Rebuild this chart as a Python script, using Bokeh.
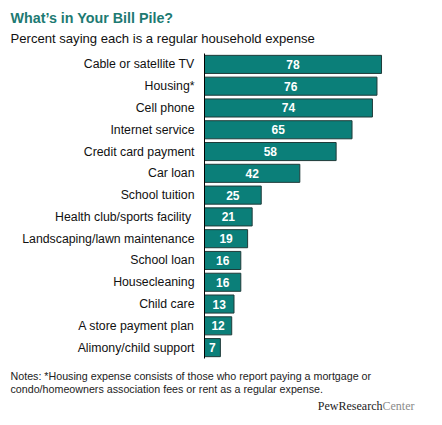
from bokeh.plotting import figure
from bokeh.models import ColumnDataSource, Range1d
from bokeh.core.properties import value
from bokeh.embed import file_html
from bokeh.resources import INLINE

categories = ["Cable or satellite TV", "Housing*", "Cell phone", "Internet service",
              "Credit card payment", "Car loan", "School tuition",
              "Health club/sports facility ", "Landscaping/lawn maintenance",
              "School loan", "Housecleaning", "Child care", "A store payment plan",
              "Alimony/child support"]
values = [78, 76, 74, 65, 58, 42, 25, 21, 19, 16, 16, 13, 12, 7]

title_text = "What\u2019s in Your Bill Pile?"
subtitle_text = "Percent saying each is a regular household expense"
notes = ["Notes: *Housing expense consists of those who report paying a mortgage or",
         "condo/homeowners association fees or rent as a regular expense."]

BAR = "#0b7f79"
FONT = "Liberation Sans"
W, H = 442, 425
XS = 2.2695   # px per percent
YS = 21.786   # px per category row
X0 = 204      # page x of the zero line
Y0 = 63.9     # page y of first row centre

n = len(categories)
idx = list(range(n))

src = ColumnDataSource(dict(cat=categories, idx=idx, val=values,
                            lab=[str(v) for v in values],
                            mid=[v / 2 for v in values]))

p = figure(width=W, height=H, output_backend="svg", toolbar_location=None,
           x_range=Range1d(-X0 / XS, (W - X0) / XS),
           y_range=Range1d((H - Y0) / YS, -Y0 / YS),
           min_border=0)
p.outline_line_color = None
p.grid.visible = False
p.axis.visible = False

def dx(page_x):
    return (page_x - X0) / XS

def dy(page_y):
    return (page_y - Y0) / YS

# bars
p.hbar(y="idx", left=0, right="val", height=0.83, source=src, fill_color=BAR,
       line_color="#1f3b39", line_width=1)
# value labels
p.text(x="mid", y="idx", text="lab", source=src, text_align="center",
       text_baseline="middle", text_color="white", text_font=value(FONT),
       text_font_style="bold", text_font_size="12px")
# category axis line and labels
p.segment(x0=[0], y0=[-0.5], x1=[0], y1=[n - 0.5], line_color="black", line_width=1)
p.text(x=dx(194), y="idx", text="cat", source=src, text_align="right",
       text_baseline="middle", text_color="#111111", text_font=value(FONT),
       text_font_size="12.3px")

def lab(page_x, page_y, text, **kw):
    p.text(x=[dx(page_x)], y=[dy(page_y)], text=[text], text_baseline="middle", **kw)

lab(10, 17, title_text, text_font=value(FONT), text_font_style="bold",
    text_font_size="14.3px", text_color="#1d7a72")
lab(10, 38, subtitle_text, text_font=value(FONT), text_font_size="13.1px",
    text_color="#111111")
lab(10, 375, notes[0], text_font=value(FONT), text_font_size="10.7px", text_color="#222222")
lab(10, 388, notes[1], text_font=value(FONT), text_font_size="10.7px", text_color="#222222")
lab(382, 405, "PewResearch", text_font=value("Liberation Serif"), text_font_size="12px",
    text_color="#222222", text_align="right")
lab(382, 405, "Center", text_font=value("Liberation Serif"), text_font_size="12px",
    text_color="#8a8a8a", text_align="left")

open("out.html", "w").write(file_html(p, INLINE))
